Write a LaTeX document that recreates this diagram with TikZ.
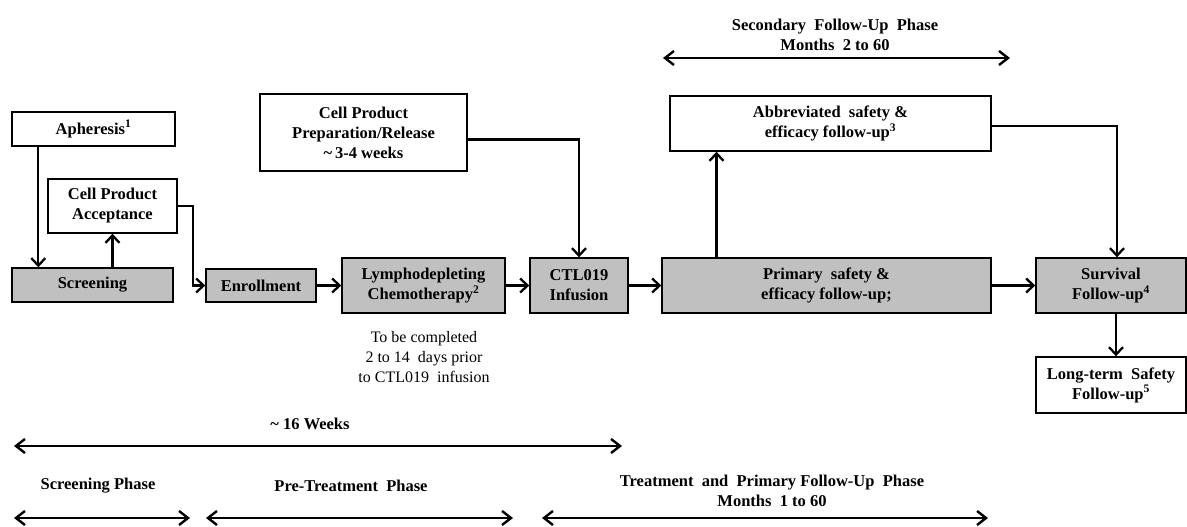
\documentclass[tikz,border=0pt]{standalone}
\usepackage{fontspec}
\setmainfont{Liberation Serif}
\usetikzlibrary{arrows.meta,calc}
\definecolor{boxgray}{RGB}{192,192,192}
\begin{document}
\begin{tikzpicture}[x=1pt,y=-1pt,
  txt/.style={align=center,font=\fontsize{16.5}{20}\selectfont\bfseries,inner sep=0pt},
  box/.style={txt,draw=black,line width=1.4pt},
  gbox/.style={box,fill=boxgray},
  arr/.style={line width=2.3pt,-{Straight Barb[length=7.5pt,width=14pt]}},
  darr/.style={line width=2.4pt,{Straight Barb[length=9pt,width=14pt]}-{Straight Barb[length=9pt,width=14pt]}}]
\useasboundingbox (0,0) rectangle (1187,527);
% boxes
\node[box,minimum width=163pt,minimum height=34pt] (aph) at (93.5,129) {Apheresis\textsuperscript{1}};
\node[box,minimum width=129pt,minimum height=54pt] (acc) at (112.5,206) {Cell Product\\Acceptance};
\node[gbox,minimum width=161pt,minimum height=34pt] (scr) at (92.5,285) {Screening};
\node[gbox,minimum width=110pt,minimum height=33pt] (enr) at (261,285.5) {Enrollment};
\node[box,minimum width=207pt,minimum height=77pt] (prep) at (363.5,132.5) {Cell Product\\Preparation/Release\\\textasciitilde\,3-4 weeks};
\node[gbox,minimum width=163pt,minimum height=55pt] (lym) at (423.5,285.5) {Lymphodepleting\\Chemotherapy\textsuperscript{2}};
\node[gbox,minimum width=98pt,minimum height=55pt] (ctl) at (579,285.5) {CTL019\\Infusion};
\node[gbox,minimum width=329pt,minimum height=55pt] (pri) at (826.5,285.5) {Primary\ \ safety \&\\efficacy follow-up;};
\node[box,minimum width=321pt,minimum height=55pt] (abb) at (830.5,123.5) {Abbreviated\ \ safety \&\\efficacy follow-up\textsuperscript{3}};
\node[gbox,minimum width=150pt,minimum height=55pt] (sur) at (1111,285.5) {Survival\\Follow-up\textsuperscript{4}};
\node[box,minimum width=150pt,minimum height=56pt] (lon) at (1111,385) {Long-term\ \ Safety\\Follow-up\textsuperscript{5}};
\node[txt,font=\fontsize{16}{20}\selectfont] (note) at (424,357) {To be completed\\2 to 14\ \ days prior\\to CTL019\ \ infusion};
% connectors
\draw[arr] ([xshift=27pt]aph.south west) -- ([xshift=27pt]aph.south west |- scr.north);
\draw[arr] (scr.north -| acc.south) -- (acc.south);
\draw[arr] (acc.east) -- ++(15,0) |- (enr.west);
\draw[arr] (enr) -- (lym);
\draw[arr] (lym) -- (ctl);
\draw[arr] (ctl) -- (pri);
\draw[arr] ([yshift=-7pt]prep.east) -| (ctl.north);
\draw[arr] ([xshift=-110pt]pri.north) -- ([xshift=-110pt]pri.north |- abb.south);
\draw[arr] (pri) -- (sur);
\draw[arr] ([yshift=-2.5pt]abb.east) -| ([xshift=6pt]sur.north);
\draw[arr] ([xshift=5pt]sur.south) -- ([xshift=5pt]lon.north);
% phase spans
\node[txt] (seclbl) at (835,35) {Secondary\ \ Follow-Up\ \ Phase\\Months\ \ 2 to 60};
\coordinate (s1) at (663,58); \coordinate (s2) at (1010,58);
\draw[darr] (s1) -- (s2);
\node[txt] (wklbl) at (310,424) {\textasciitilde\ 16 Weeks};
\coordinate (w1) at (14,446); \coordinate (w2) at (622,446);
\draw[darr] (w1) -- (w2);
\node[txt] (scrlbl) at (98,486) {Screening Phase};
\coordinate (p1) at (14,518); \coordinate (p2) at (190,518);
\draw[darr] (p1) -- (p2);
\node[txt] (prelbl) at (351,486) {Pre-Treatment\ \ Phase};
\coordinate (q1) at (206,518); \coordinate (q2) at (513,518);
\draw[darr] (q1) -- (q2);
\node[txt] (trlbl) at (772,491) {Treatment\ \ and\ \ Primary Follow-Up\ \ Phase\\Months\ \ 1 to 60};
\coordinate (t1) at (542,518); \coordinate (t2) at (988,518);
\draw[darr] (t1) -- (t2);
\end{tikzpicture}
\end{document}
